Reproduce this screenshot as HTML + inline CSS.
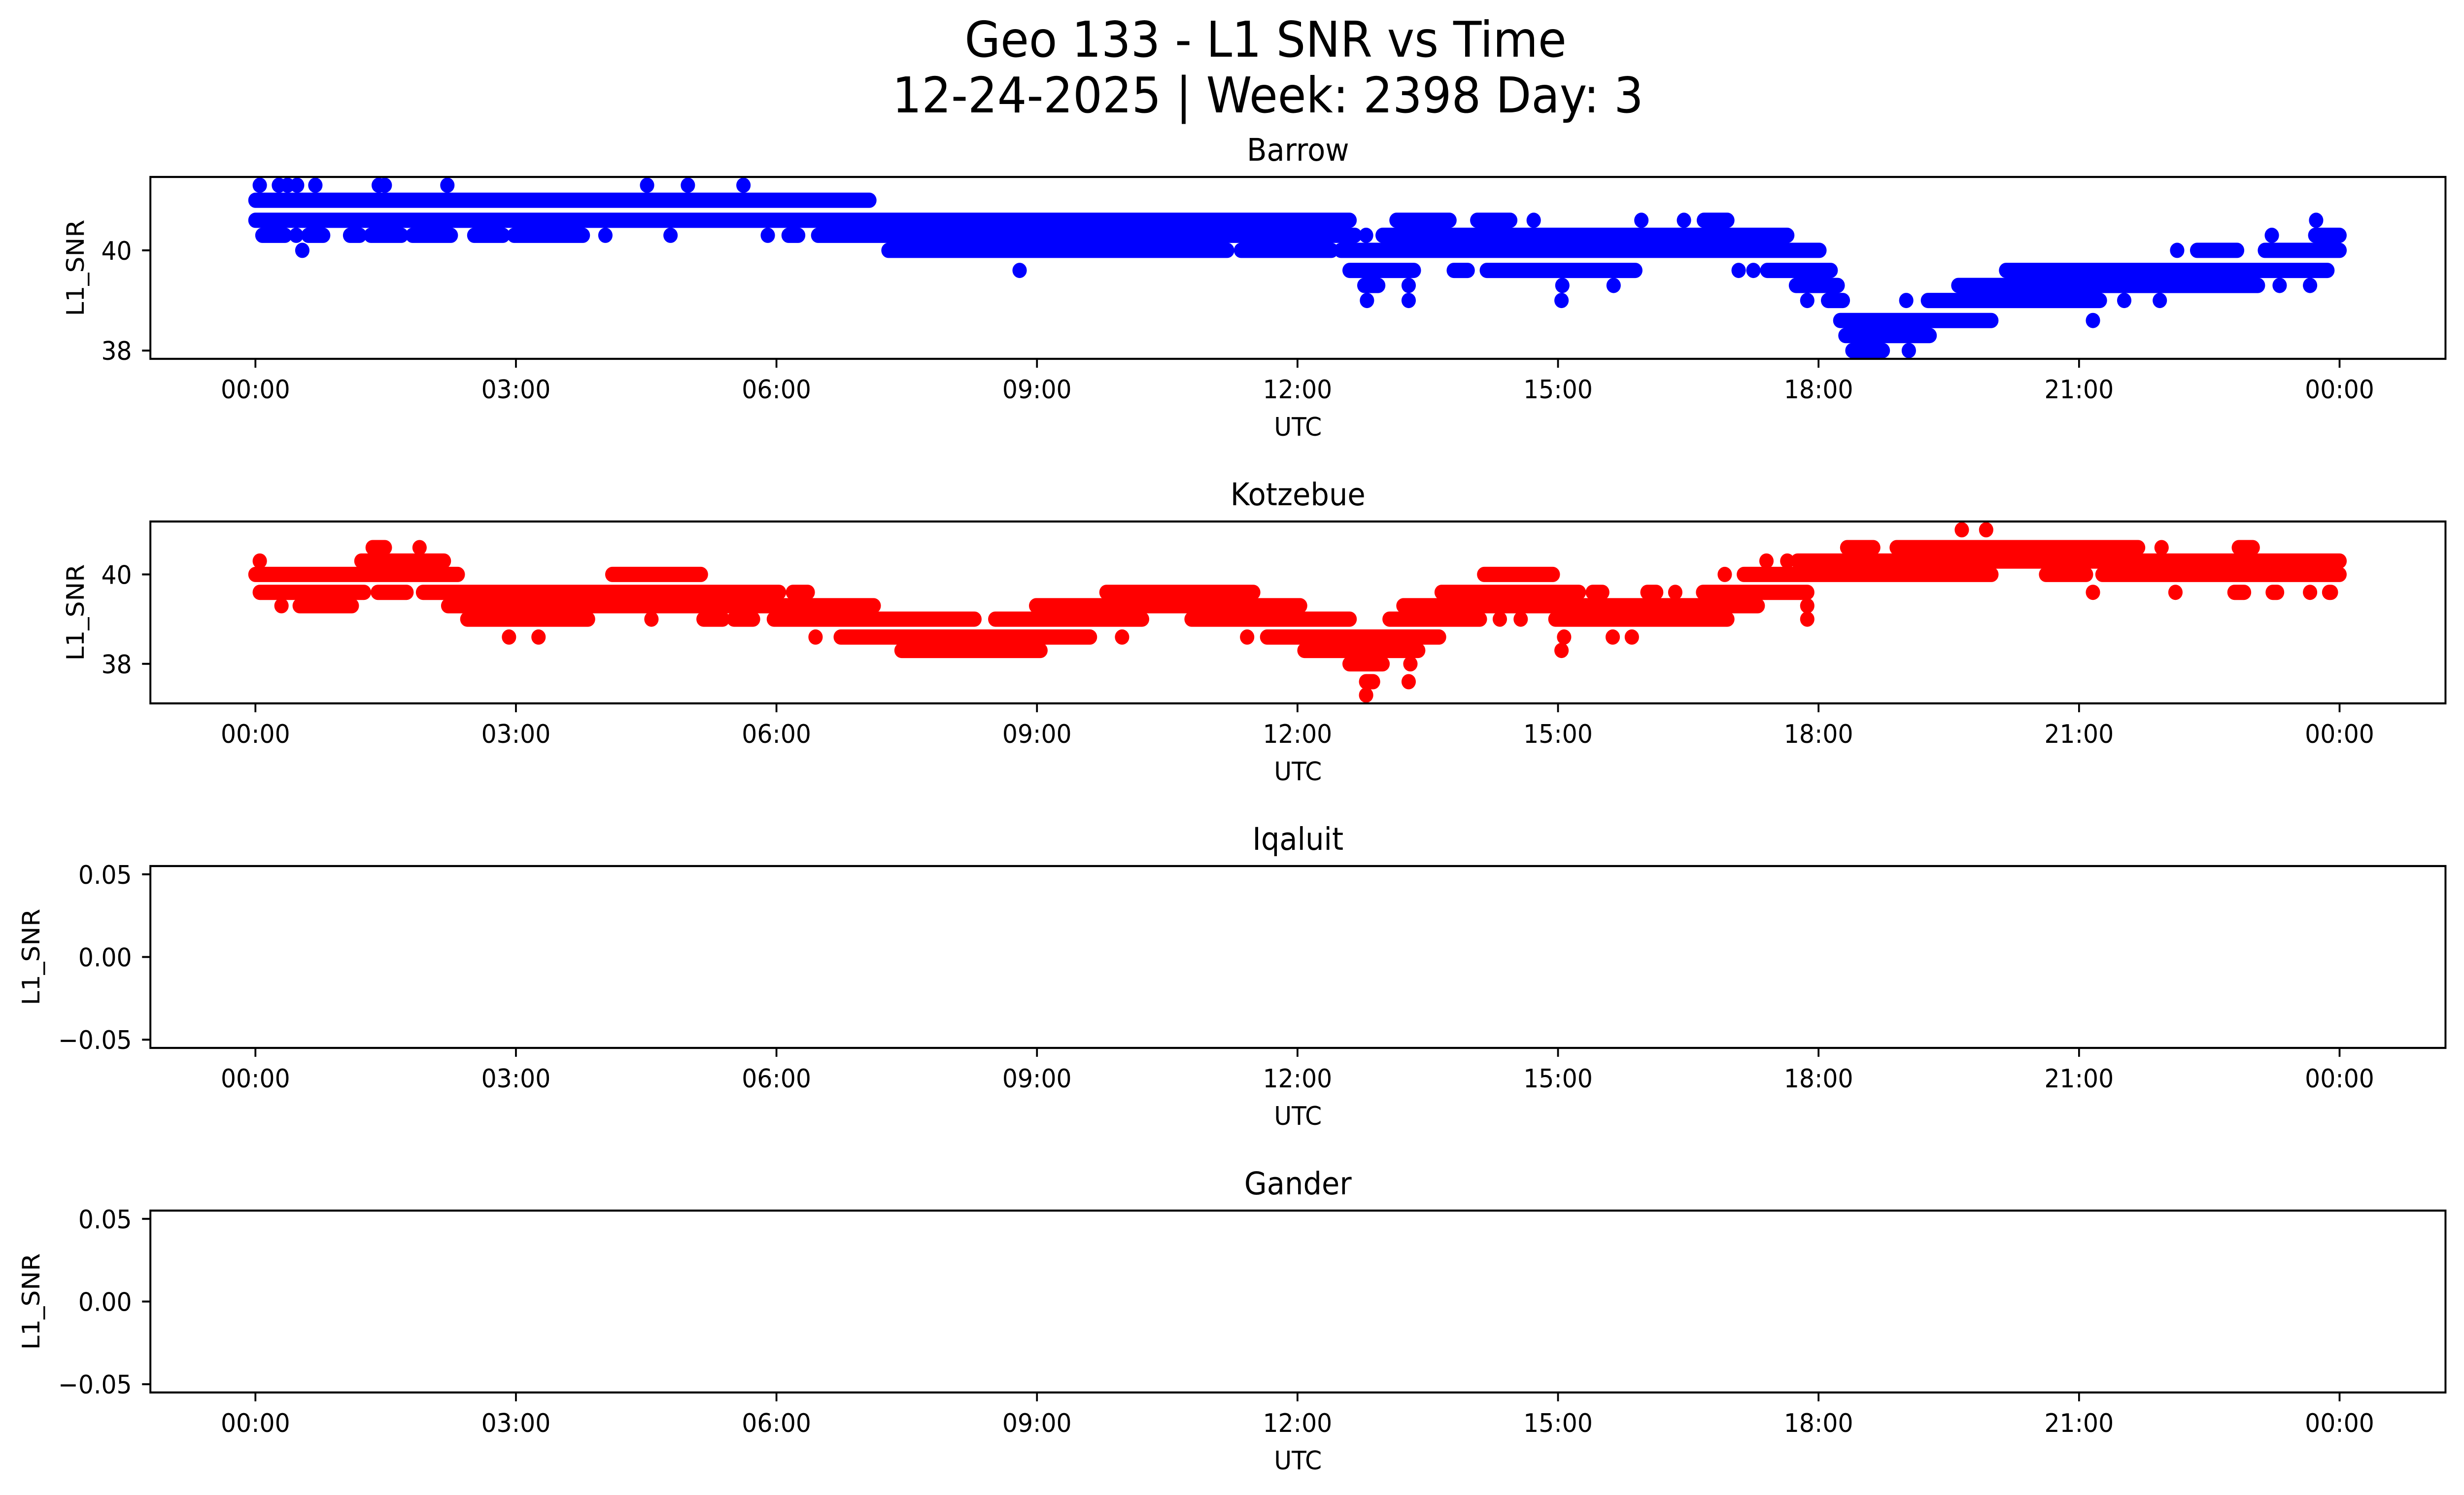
<!DOCTYPE html>
<html><head><meta charset="utf-8"><title>Geo 133 - L1 SNR vs Time</title>
<style>
html,body{margin:0;padding:0;background:#fff;overflow:hidden;width:100%;height:100%;}
svg{display:block;width:100vw;height:100vh;}
text{font-family:"DejaVu Sans","Liberation Sans",sans-serif;fill:#000;}
</style></head>
<body>
<svg id="fig" viewBox="0 0 5325 3033" preserveAspectRatio="none" xmlns="http://www.w3.org/2000/svg">
<rect width="5325" height="3033" fill="#fff"/>
<text x="2735" y="115" font-size="100" text-anchor="middle">Geo 133 - L1 SNR vs Time</text>
<text x="2740" y="228" font-size="100" text-anchor="middle">12-24-2025 | Week: 2398 Day: 3</text>
</svg>
<script>
// ---- data ----
const xTickLabels = ["00:00","03:00","06:00","09:00","12:00","15:00","18:00","21:00","00:00"];
const xTickHours = [0,3,6,9,12,15,18,21,24];
const panelNames = ["Barrow","Kotzebue","Iqaluit","Gander"];
const panelColors = ["#0000ff","#ff0000","#0000ff","#0000ff"];

// Barrow: SNR levels and runs of observations [startHour, endHour]
const barrowLevels = [41.3, 41.0, 40.6, 40.3, 40.0, 39.6, 39.3, 39.0, 38.6, 38.3, 38.0];
const barrowRuns = [
  [[0.05,0.05],[0.27,0.27],[0.37,0.37],[0.48,0.48],[0.69,0.69],[1.42,1.42],[1.49,1.49],[2.21,2.21],[4.51,4.51],[4.98,4.98],[5.62,5.62]],
  [[0.0,7.07]],
  [[0.0,12.6],[13.14,13.75],[14.07,14.45],[14.72,14.72],[15.96,15.96],[16.45,16.45],[16.68,16.95],[23.73,23.73]],
  [[0.08,0.34],[0.47,0.47],[0.61,0.78],[1.09,1.2],[1.33,1.68],[1.81,2.25],[2.52,2.85],[2.98,3.77],[4.03,4.03],[4.78,4.78],[5.9,5.9],[6.14,6.25],[6.48,12.66],[12.79,12.79],[12.98,17.64],[23.22,23.22],[23.72,24.0]],
  [[0.54,0.54],[7.29,11.19],[11.35,12.39],[12.5,18.01],[22.13,22.13],[22.36,22.82],[23.14,24.0]],
  [[8.8,8.8],[12.6,13.34],[13.8,13.96],[14.18,15.89],[17.08,17.08],[17.25,17.25],[17.41,18.14],[20.16,23.86]],
  [[12.77,12.93],[13.28,13.28],[15.05,15.05],[15.64,15.64],[17.74,18.22],[19.61,23.06],[23.31,23.31],[23.66,23.66]],
  [[12.8,12.8],[13.28,13.28],[15.04,15.04],[17.87,17.87],[18.11,18.28],[19.01,19.01],[19.26,21.24],[21.52,21.52],[21.93,21.93]],
  [[18.25,19.99],[21.16,21.16]],
  [[18.31,19.28]],
  [[18.39,18.74],[19.04,19.04]]
];
const barrowYTicks = [38, 40];

// Kotzebue
const kotzLevels = [41.0, 40.6, 40.3, 40.0, 39.6, 39.3, 39.0, 38.6, 38.3, 38.0, 37.6, 37.3];
const kotzRuns = [
  [[19.65,19.65],[19.93,19.93]],
  [[1.35,1.49],[1.89,1.89],[18.33,18.63],[18.9,21.68],[21.95,21.95],[22.84,23.0]],
  [[0.05,0.05],[1.22,2.17],[17.40,17.40],[17.64,17.64],[17.76,24.0]],
  [[0.0,2.33],[4.11,5.13],[14.15,14.94],[16.92,16.92],[17.14,19.99],[20.62,21.08],[21.27,24.0]],
  [[0.05,1.25],[1.41,1.74],[1.93,6.03],[6.19,6.36],[9.80,11.49],[13.66,15.24],[15.40,15.51],[16.03,16.13],[16.35,16.35],[16.67,17.87],[21.16,21.16],[22.11,22.11],[22.79,22.9],[23.23,23.28],[23.66,23.66],[23.88,23.9]],
  [[0.30,0.30],[0.51,1.11],[2.22,7.12],[8.99,12.03],[13.22,17.3],[17.87,17.87]],
  [[2.44,3.83],[4.56,4.56],[5.16,5.38],[5.51,5.73],[5.97,8.28],[8.52,10.21],[10.78,12.6],[13.06,14.1],[14.33,14.33],[14.57,14.57],[14.97,16.95],[17.87,17.87]],
  [[2.92,2.92],[3.26,3.26],[6.45,6.45],[6.74,9.61],[9.98,9.98],[11.42,11.42],[11.65,13.63],[15.07,15.07],[15.63,15.63],[15.85,15.85]],
  [[7.44,9.04],[12.08,13.39],[15.04,15.04]],
  [[12.6,12.98],[13.3,13.3]],
  [[12.79,12.87],[13.28,13.28]],
  [[12.79,12.79]]
];
const kotzYTicks = [38, 40];

const emptyYTicks = [-0.05, 0.00, 0.05];
const emptyYTickLabels = ["\u22120.05","0.00","0.05"];

// ---- layout ----
const NS = "http://www.w3.org/2000/svg";
const svg = document.getElementById('fig');
const AX_L = 325, AX_R = 5285, AX_H = 369;
const panelTops = [359, 1058, 1757, 2456];
const X0 = 552, PX_PER_H = 187.67;
const DOT_R = 15.5;
function xScale(h){ return X0 + h * PX_PER_H; }
function mk(tag, attrs){ const e = document.createElementNS(NS, tag); for (const k in attrs) e.setAttribute(k, attrs[k]); return e; }

function yScaleFactory(top, vmin, vmax){
  const pad = (vmax - vmin) * 0.05;
  const lo = vmin - pad, hi = vmax + pad;
  return v => top + (hi - v) / (hi - lo) * AX_H;
}

function drawPanel(i, levels, runs, yTicks, yTickLabels, yLabelX, vmin, vmax){
  const top = panelTops[i], bottom = top + AX_H;
  const g = mk('g', {});
  
  
  svg.appendChild(g);
  const y = yScaleFactory(top, vmin, vmax);

  const marks = mk('g', {fill: panelColors[i]});
  
  
  g.appendChild(marks);
  levels.forEach((lv, li) => {
    runs[li].forEach(run => {
      const x1 = xScale(run[0]) - DOT_R, x2 = xScale(run[1]) + DOT_R;
      const r = mk('rect', {x: x1.toFixed(1), y: (y(lv) - DOT_R).toFixed(1), width: (x2 - x1).toFixed(1), height: 2*DOT_R, rx: DOT_R, ry: DOT_R});
      
      
      marks.appendChild(r);
    });
  });

  const frame = mk('rect', {x: AX_L, y: top, width: AX_R - AX_L, height: AX_H, fill: 'none', stroke: '#000', 'stroke-width': 4.2});
  
  
  g.appendChild(frame);

  const t = mk('text', {x: (AX_L + AX_R)/2, y: top - 33, 'font-size': 63, 'text-anchor': 'middle'});
  t.textContent = panelNames[i];
  
  
  g.appendChild(t);

  xTickHours.forEach((h, k) => {
    const x = xScale(h);
    const tk = mk('line', {x1: x, x2: x, y1: bottom, y2: bottom + 18, stroke: '#000', 'stroke-width': 4});
    
    
    g.appendChild(tk);
    const lb = mk('text', {x: x, y: bottom + 80, 'font-size': 52, 'text-anchor': 'middle'});
    lb.textContent = xTickLabels[k];
    
    
    g.appendChild(lb);
  });
  const xl = mk('text', {x: (AX_L + AX_R)/2, y: bottom + 156, 'font-size': 52, 'text-anchor': 'middle'});
  xl.textContent = 'UTC';
  
  
  g.appendChild(xl);

  yTicks.forEach((v, k) => {
    const yy = y(v);
    const tk = mk('line', {x1: AX_L - 18, x2: AX_L, y1: yy, y2: yy, stroke: '#000', 'stroke-width': 4});
    
    
    g.appendChild(tk);
    const lb = mk('text', {x: AX_L - 40, y: yy + 19, 'font-size': 52, 'text-anchor': 'end'});
    lb.textContent = yTickLabels[k];
    
    
    g.appendChild(lb);
  });
  const cy = top + AX_H/2;
  const yl = mk('text', {x: yLabelX, y: cy, 'font-size': 52, 'text-anchor': 'middle', transform: 'rotate(-90 ' + yLabelX + ' ' + cy + ')', 'dominant-baseline': 'central'});
  yl.textContent = 'L1_SNR';
  
  
  g.appendChild(yl);
}

drawPanel(0, barrowLevels, barrowRuns, barrowYTicks, barrowYTicks.map(String), 163, Math.min(...barrowLevels), Math.max(...barrowLevels));
drawPanel(1, kotzLevels, kotzRuns, kotzYTicks, kotzYTicks.map(String), 163, Math.min(...kotzLevels), Math.max(...kotzLevels));
drawPanel(2, [], [], emptyYTicks, emptyYTickLabels, 67, -0.05, 0.05);
drawPanel(3, [], [], emptyYTicks, emptyYTickLabels, 67, -0.05, 0.05);
</script>
</body></html>
